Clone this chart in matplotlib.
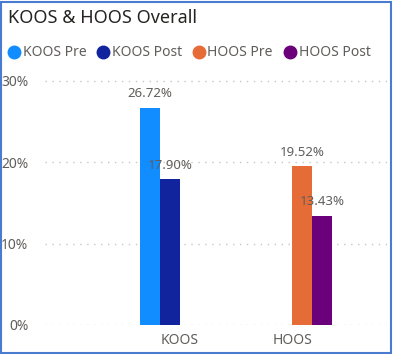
import numpy as np
import matplotlib
matplotlib.use('Agg')
import matplotlib.pyplot as plt
from matplotlib.patches import Rectangle
from matplotlib.lines import Line2D

categories = ['KOOS', 'HOOS']
series = ['KOOS Pre', 'KOOS Post', 'HOOS Pre', 'HOOS Post']
koos_pre = [0.2672, np.nan]
koos_post = [0.1790, np.nan]
hoos_pre = [np.nan, 0.1952]
hoos_post = [np.nan, 0.1343]
colors = ['#118DFF', '#12239E', '#E66C37', '#6B007B']
yticks = [0, 0.10, 0.20, 0.30]
ytick_labels = ['0%', '10%', '20%', '30%']

plt.rcParams['font.family'] = ['Noto Sans', 'DejaVu Sans']
grey = '#605E5C'

fig = plt.figure(figsize=(3.93, 3.54), dpi=100)
W, H = 393, 354

# axes: x 45..387 px, y 0% at 325 px, 30% at 81 px
ymax = 0.305
top_px = 325 - 244 * ymax / 0.30
ax = fig.add_axes([45 / W, (H - 325) / H, (387 - 45) / W, (325 - top_px) / H])

x = np.arange(len(categories))
width = 0.1786
offsets = np.array([-1.5, -0.5, 0.5, 1.5]) * width
values = [koos_pre, koos_post, hoos_pre, hoos_post]

for vals, off, c in zip(values, offsets, colors):
    bars = ax.bar(x + off, vals, width, color=c, zorder=3)
    for b, v in zip(bars, vals):
        if not np.isnan(v):
            ax.text(b.get_x() + b.get_width() / 2, v + 0.0175, '%.2f%%' % (v * 100),
                    ha='center', va='center', fontsize=9.5, color=grey, zorder=4)

ax.set_xlim((45 - 180) / 112, (387 - 180) / 112)
ax.set_ylim(0, ymax)
ax.set_yticks(yticks)
ax.set_yticklabels(ytick_labels)
ax.set_xticks(x)
ax.set_xticklabels(categories)
ax.tick_params(axis='both', length=0, labelsize=10, colors=grey)
ax.tick_params(axis='y', pad=12)
ax.tick_params(axis='x', pad=6)
for s in ax.spines.values():
    s.set_visible(False)
ax.yaxis.grid(True, color='#C8C6C4', linestyle=(0, (1, 4)), linewidth=1)
for lab in ax.get_yticklabels():
    lab.set_horizontalalignment('right')

# title
fig.text(8 / W, 1 - 18 / H, 'KOOS & HOOS Overall', fontsize=13, color='#252423',
         ha='left', va='center')

# legend
leg_y = 1 - 52 / H
circle_x = [14, 103, 199, 290]
text_x = [23, 112, 207, 299]
for cx, tx, name, c in zip(circle_x, text_x, series, colors):
    fig.add_artist(Line2D([cx / W], [leg_y], marker='o', markersize=9,
                          color=c, linestyle='none', transform=fig.transFigure))
    fig.text(tx / W, leg_y, name, fontsize=10, color=grey, ha='left', va='center')

# border
fig.add_artist(Rectangle((0.5 / W, 1.5 / H), (W - 2.5) / W, (H - 3) / H,
                         transform=fig.transFigure, fill=False,
                         edgecolor='#4A7BD0', linewidth=1.5))

fig.savefig('out.png', dpi=100)
